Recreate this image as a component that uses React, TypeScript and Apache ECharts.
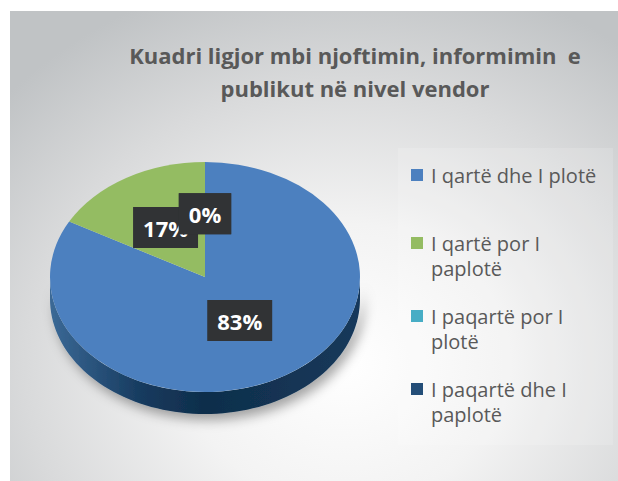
import React, { useEffect, useRef } from 'react';
import * as echarts from 'echarts';

const categories = [
  'I qartë dhe I plotë',
  'I qartë por I paplotë',
  'I paqartë por I plotë',
  'I paqartë dhe I paplotë',
];
const legendLines = [
  ['I qartë dhe I plotë'],
  ['I qartë por I', 'paplotë'],
  ['I paqartë por I', 'plotë'],
  ['I paqartë dhe I', 'paplotë'],
];
const shares = [83, 17, 0, 0];
const colors = ['#4c80bf', '#94bc62', '#47adc5', '#244e78'];
const titleText = 'Kuadri ligjor mbi njoftimin, informimin  e\npublikut në nivel vendor';

const FONT = '"Open Sans", "Noto Sans", sans-serif';

export default function App() {
  const ref = useRef<HTMLDivElement>(null);
  useEffect(() => {
    if (!ref.current) return;
    const chart = echarts.init(ref.current, null, { renderer: 'svg' });
    const total = shares.reduce((a, b) => a + b, 0);
    const CX = 205, CY = 277, RX = 155, RY = 115, DEPTH = 22;
    const labelRadius = [0.44, 0.5, 0.55, 0.55];
    const legendY = [175, 243, 316, 389];

    const renderItem = (params: any, api: any) => {
      const i = params.dataIndex;
      const v = api.value(0) as number;
      let before = 0;
      for (let k = 0; k < i; k++) before += shares[k];
      const a1 = -Math.PI / 2 + (before / total) * Math.PI * 2;
      const a2 = a1 + (v / total) * Math.PI * 2;
      const children: any[] = [];
      if (v > 0) {
        children.push({
          type: 'sector',
          x: CX,
          y: CY,
          scaleY: RY / RX,
          shape: { cx: 0, cy: 0, r0: 0, r: RX, startAngle: a1, endAngle: a2, clockwise: true },
          style: { fill: api.visual('color') },
          z2: 10,
        });
        for (let k = -1; k <= 1; k++) {
          const lo = Math.max(a1, 2 * Math.PI * k);
          const hi = Math.min(a2, 2 * Math.PI * k + Math.PI);
          if (hi > lo) {
            const pts: number[][] = [];
            const N = 80;
            for (let s = 0; s <= N; s++) {
              const t = lo + ((hi - lo) * s) / N;
              pts.push([CX + RX * Math.cos(t), CY + RY * Math.sin(t)]);
            }
            for (let s = N; s >= 0; s--) {
              const t = lo + ((hi - lo) * s) / N;
              pts.push([CX + RX * Math.cos(t), CY + RY * Math.sin(t) + DEPTH]);
            }
            children.push({
              type: 'polygon',
              shape: { points: pts },
              style: {
                fill: new echarts.graphic.LinearGradient(0, 0, 1, 0, [
                  { offset: 0, color: '#3b6996' },
                  { offset: 0.3, color: '#163a5e' },
                  { offset: 0.5, color: '#0f2e4b' },
                  { offset: 1, color: '#16395b' },
                ]),
                shadowColor: 'rgba(0,0,0,0.35)',
                shadowBlur: 12,
                shadowOffsetX: 4,
                shadowOffsetY: 6,
              },
              z2: 1,
            });
          }
        }
      }
      const mid = (a1 + a2) / 2;
      const lr = labelRadius[i];
      children.push({
        type: 'text',
        x: CX + lr * RX * Math.cos(mid),
        y: CY + lr * RY * Math.sin(mid),
        style: {
          text: Math.round((v / total) * 100) + '%',
          fill: '#ffffff',
          font: 'bold 22px ' + FONT,
          lineHeight: 27,
          align: 'center',
          verticalAlign: 'middle',
          backgroundColor: '#313335',
          padding: [7, 10, 7, 10],
          boxShadowBlur: 6,
          boxShadowColor: 'rgba(0,0,0,0.55)',
          boxShadowOffsetX: 2,
          boxShadowOffsetY: 2,
        },
        z2: 20 + i,
      });
      return { type: 'group', children };
    };

    const graphic: any[] = [
      {
        type: 'rect',
        shape: { x: 398, y: 148, width: 215, height: 297 },
        style: { fill: 'rgba(255,255,255,0.15)' },
        silent: true,
      },
    ];
    categories.forEach((c, i) => {
      graphic.push({
        type: 'rect',
        shape: { x: 411, y: legendY[i] - 6, width: 12, height: 12 },
        style: { fill: colors[i] },
      });
      graphic.push({
        type: 'text',
        x: 431,
        y: legendY[i] - 12.5,
        style: {
          text: legendLines[i].join('\n'),
          font: '20px ' + FONT,
          fill: '#595959',
          lineHeight: 25,
          verticalAlign: 'top',
        },
      });
    });

    chart.setOption({
      animation: false,
      backgroundColor: 'transparent',
      title: {
        text: titleText,
        left: 350,
        top: 33,
        textAlign: 'center',
        textStyle: {
          fontFamily: FONT,
          fontSize: 22,
          fontWeight: 'bold',
          color: '#595959',
          lineHeight: 33,
        },
      },
      graphic,
      series: [
        {
          type: 'custom',
          coordinateSystem: 'none',
          renderItem,
          data: shares.map((v, i) => ({
            name: categories[i],
            value: [v],
            itemStyle: { color: colors[i] },
          })),
        },
      ],
    });
    return () => chart.dispose();
  }, []);

  return (
    <div style={{ position: 'fixed', left: 0, top: 0, width: 618, height: 481, background: '#ffffff' }}>
      <div
        style={{
          position: 'absolute',
          left: 10,
          top: 11,
          width: 608,
          height: 470,
          background:
            'radial-gradient(ellipse 75% 85% at 55% 75%, #ffffff 0%, #f3f3f3 35%, #d9dadb 70%, #c0c3c5 100%)',
        }}
      />
      <div ref={ref} style={{ position: 'absolute', left: 0, top: 0, width: 618, height: 481 }} />
    </div>
  );
}
